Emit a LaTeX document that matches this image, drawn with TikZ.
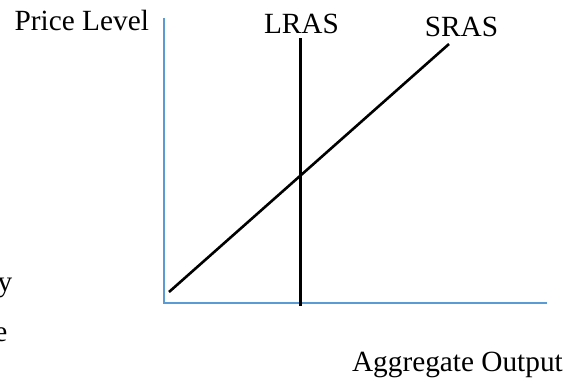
\documentclass[tikz,border=0pt]{standalone}
\usepackage{fontspec}
\setmainfont{Liberation Serif}
\definecolor{axisblue}{RGB}{91,155,213}
\begin{document}
\begin{tikzpicture}[x=1pt,y=-1pt,
  lbl/.style={inner sep=0pt,font=\fontsize{29.3}{35}\selectfont},
  axisline/.style={draw=axisblue,line width=1.5pt},
  curve/.style={draw=black,line width=2.6pt}]
\useasboundingbox (0,0) rectangle (579,378);
\clip (0,0) rectangle (579,378);
% axes
\coordinate (ytop) at (164,18);
\coordinate (origin) at (164,303);
\coordinate (xend) at (547,303);
\draw[axisline] (ytop) -- (origin) -- (xend);
% LRAS
\coordinate (lrastop) at (300.5,38);
\coordinate (lrasbot) at (300.5,306);
\draw[curve] (lrastop) -- (lrasbot);
% SRAS
\coordinate (srasbot) at (169,292);
\coordinate (srastop) at (449,44);
\draw[curve] (srasbot) -- (srastop);
% labels
\node[lbl,anchor=base west] (pl) at (14.5,30.7) {Price Level};
\node[lbl,anchor=base] (lras) at (301.5,33.3) {LRAS};
\node[lbl,anchor=base] (sras) at (461.5,36.7) {SRAS};
\node[lbl,anchor=base east] (ao) at (563,371.6) {Aggregate Output};
\node[lbl,anchor=base east] (cuty) at (12.5,291) {y};
\node[lbl,anchor=base east] (cute) at (7.5,341) {e};
\end{tikzpicture}
\end{document}
